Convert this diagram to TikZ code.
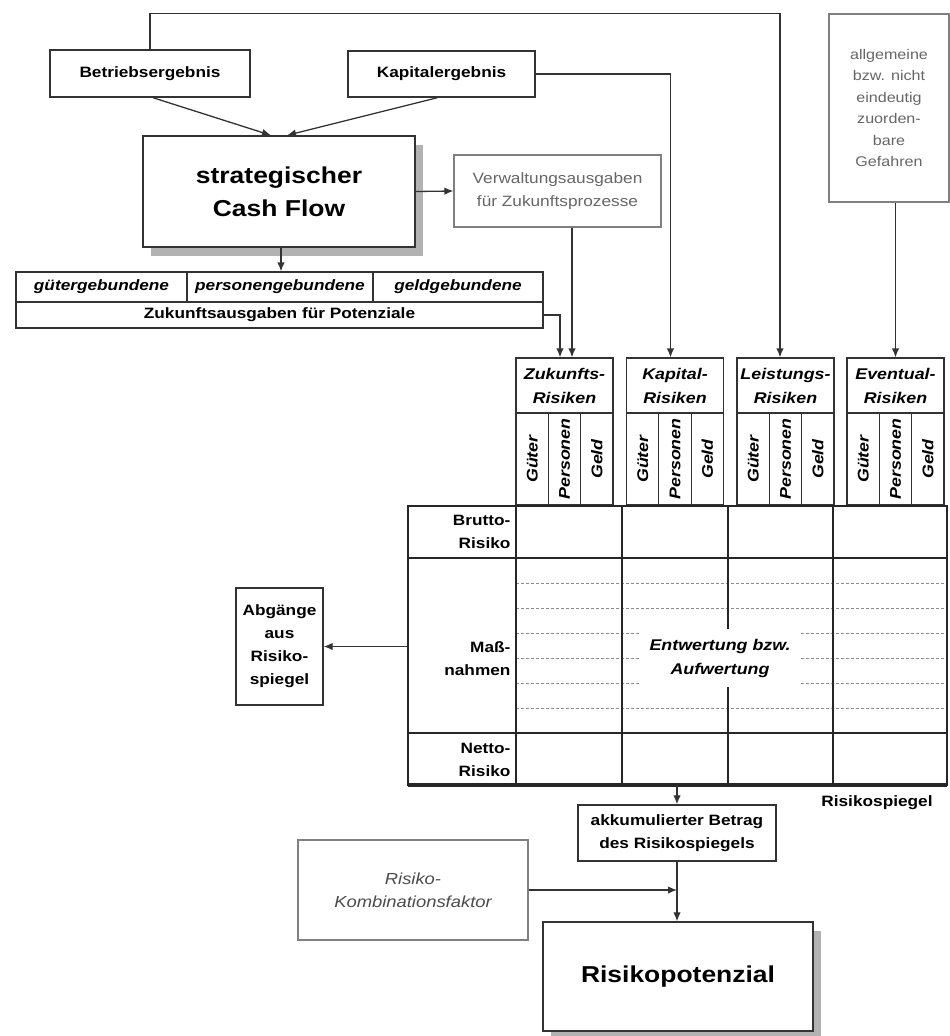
\documentclass[tikz,border=0pt]{standalone}
\usepackage{fontspec}
\setmainfont{Liberation Sans}[FakeStretch=1.15]
\usetikzlibrary{arrows.meta, positioning, shadows}

\newcommand\txtS{\fontsize{15}{23}\selectfont}
\newcommand\txtH{\fontsize{15.5}{24}\selectfont}
\newcommand\txtL{\fontsize{23}{33}\selectfont}

\tikzset{
  box/.style={draw=black!80, line width=1.4pt, fill=white, inner sep=2pt, align=center, font=\txtS\bfseries},
  softbox/.style={draw=black!50, line width=1.2pt, inner sep=2pt, align=center, text=black!60, font=\txtS},
  bigbox/.style={box, font=\txtL\bfseries,
    drop shadow={shadow xshift=8pt, shadow yshift=-9pt, fill=black!30, opacity=1}},
  cell/.style={draw=black!80, line width=1.2pt, inner sep=0pt, font=\txtS\bfseries\itshape},
  colhead/.style={cell, align=center, font=\txtH\bfseries\itshape, minimum width=97, minimum height=55},
  subcol/.style={cell, font=\txtH\bfseries\itshape, rotate=90, minimum width=92, minimum height=32.33},
  tabline/.style={draw=black!85, line width=1.5pt},
  dashline/.style={draw=black!45, line width=0.9pt, densely dashed},
  conn/.style={draw=black!80, line width=1.3pt, -{Latex[length=9pt,width=7.5pt]}},
}

\begin{document}
\begin{tikzpicture}[x=1pt, y=-1pt]
  \path[fill=white, use as bounding box] (0,0) rectangle (950,1036);

  % sources at the top
  \node[box, minimum width=200, minimum height=47] (betrieb) at (150,73.5) {Betriebsergebnis};
  \node[box, minimum width=187, minimum height=46] (kapital) at (441.5,74) {Kapitalergebnis};
  \node[bigbox, minimum width=272, minimum height=111] (cf) at (279,191.5) {strategischer\\Cash Flow};
  \node[softbox, minimum width=207, minimum height=72] (verw) at (557.5,191)
    {Verwaltungsausgaben\\für Zukunftsprozesse};
  \node[softbox, minimum width=120, minimum height=188, font=\fontsize{14}{21.5}\selectfont] (event) at (889,108)
    {allgemeine\\bzw. nicht\\eindeutig\\zuorden-\\bare\\Gefahren};

  % Zukunftsausgaben
  \node[cell, minimum width=171, minimum height=30] (gut) at (101.5,287) {gütergebundene};
  \node[cell, minimum width=186, minimum height=30] (pers) at (280,287) {personengebundene};
  \node[cell, minimum width=170, minimum height=30] (geld) at (458,287) {geldgebundene};
  \node[cell, font=\txtS\bfseries, minimum width=527, minimum height=26] (ausg) at (279.5,315)
    {Zukunftsausgaben für Potenziale};

  % risk columns
  \foreach \gx/\gid/\gtxt in {516/zuk/Zukunfts-, 626.5/kap/Kapital-, 737/lei/Leistungs-, 847/eve/Eventual-} {
    \node[colhead] (hdr-\gid) at (\gx+48.5,385.5) {\gtxt\\Risiken};
    \node[subcol] (gue-\gid) at (\gx+16.17,459) {Güter};
    \node[subcol] (per-\gid) at (\gx+48.5,459) {Personen};
    \node[subcol] (gel-\gid) at (\gx+80.83,459) {Geld};
  }

  % Risikospiegel
  \node[minimum width=539, minimum height=279, inner sep=0pt] (spiegel) at (677.5,645.5) {};
  \foreach \dy in {583,608,...,708}
    \draw[dashline] (516,\dy) -- (947,\dy);
  \draw[tabline] (spiegel.north west) rectangle (spiegel.south east);
  \foreach \cx in {516,622,728,833}
    \draw[tabline] (\cx,506) -- (\cx,785);
  \foreach \ry in {558,733}
    \draw[tabline, line width=2.2pt] (408,\ry) -- (947,\ry);
  \draw[tabline, line width=3.5pt] (408,785) -- (947,785);
  \node[anchor=east, align=right, font=\txtS\bfseries] (brutto) at (514,532) {Brutto-\\Risiko};
  \node[anchor=east, align=right, font=\txtS\bfseries] (massn) at (514,659) {Maß-\\nahmen};
  \node[anchor=east, align=right, font=\txtS\bfseries] (netto) at (514,760) {Netto-\\Risiko};
  \node[fill=white, align=center, font=\txtH\bfseries\itshape, minimum width=160, minimum height=58] (entw)
    at (720,658) {Entwertung bzw.\\Aufwertung};
  \node[font=\txtS\bfseries] (rslabel) at (877,803) {Risikospiegel};

  % lower part
  \node[box, minimum width=87, minimum height=117] (abg) at (279.5,646.5) {Abgänge\\aus\\Risiko-\\spiegel};
  \node[box, minimum width=198, minimum height=56] (akk) at (677,833) {akkumulierter Betrag\\des Risikospiegels};
  \node[softbox, text=black!70, font=\fontsize{16}{23}\selectfont\itshape, minimum width=230, minimum height=100]
    (kombi) at (413,890) {Risiko-\\Kombinationsfaktor};
  \node[bigbox, minimum width=270, minimum height=109] (rp) at (678,976.5) {Risikopotenzial};

  % connectors
  \draw[conn] ([xshift=3pt]betrieb.south) -- ([xshift=-8pt]cf.north);
  \draw[conn] ([xshift=-4pt]kapital.south) -- ([xshift=8pt]cf.north);
  \draw[conn] (cf.east) -- (verw.west);
  \draw[conn] ([xshift=2pt]cf.south) -- ([xshift=2pt]cf.south |- pers.north);
  \coordinate (zuka) at ([xshift=-4.5pt]hdr-zuk.north);
  \coordinate (zukb) at ([xshift=7.5pt]hdr-zuk.north);
  \draw[conn] (ausg.east) -| (zuka);
  \draw[conn] (verw.south -| zukb) -- (zukb);
  \draw[conn] (kapital.east) -| ([xshift=-4.5pt]hdr-kap.north);
  \draw[conn] (betrieb.north) -- ++(0,-36) -| ([xshift=-5.5pt]hdr-lei.north);
  \draw[conn] (hdr-eve.north |- event.south) -- (hdr-eve.north);
  \draw[conn] (spiegel.west |- abg.east) -- (abg.east);
  \draw[conn] (spiegel.south -| akk.north) -- (akk.north);
  \draw[conn] (kombi.east) -- (kombi.east -| akk.south);
  \draw[conn] (akk.south) -- (akk.south |- rp.north);
\end{tikzpicture}
\end{document}
